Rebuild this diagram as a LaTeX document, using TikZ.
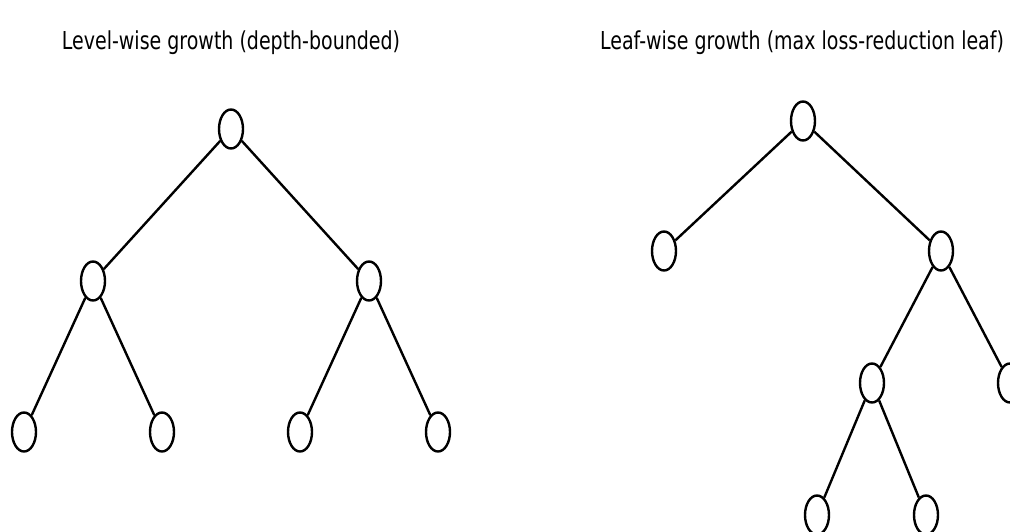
\documentclass[tikz,border=0pt]{standalone}
\usepackage{fontspec}
\setmainfont{DejaVu Sans}
\usetikzlibrary{shapes.geometric}
\tikzset{tnode/.style={ellipse,draw,line width=2.4pt,minimum width=24pt,minimum height=39pt,inner sep=0pt},
  tedge/.style={line width=2.4pt},ttl/.style={font=\fontsize{19}{22}\selectfont,anchor=base}}
\newcommand{\tall}[1]{\scalebox{1}[1.3]{#1}}

\begin{document}
\begin{tikzpicture}[x=1pt,y=-1pt]
\useasboundingbox (0,0) rectangle (1010,531);
% level-wise tree
\node[ttl] (tl) at (231,49) {\tall{Level-wise growth (depth-bounded)}};
\node[tnode] (a) at (231,129) {};
\node[tnode] (al) at (93,281) {}; \node[tnode] (ar) at (369,281) {};
\node[tnode] (all) at (24,432) {}; \node[tnode] (alr) at (162,432) {};
\node[tnode] (arl) at (300,432) {}; \node[tnode] (arr) at (438,432) {};
\draw[tedge] (a) -- (al); \draw[tedge] (a) -- (ar);
\draw[tedge] (al) -- (all); \draw[tedge] (al) -- (alr); \draw[tedge] (ar) -- (arl); \draw[tedge] (ar) -- (arr);
% leaf-wise tree
\node[ttl] (tr) at (802,49) {\tall{Leaf-wise growth (max loss-reduction leaf)}};
\node[tnode] (b) at (803,121) {};
\node[tnode] (bl) at (664,251) {}; \node[tnode] (br) at (941,251) {};
\node[tnode] (brl) at (872,383) {}; \node[tnode] (brr) at (1010,383) {};
\node[tnode] (brll) at (817,515) {}; \node[tnode] (brlr) at (926,515) {};
\draw[tedge] (b) -- (bl); \draw[tedge] (b) -- (br);
\draw[tedge] (br) -- (brl); \draw[tedge] (br) -- (brr);
\draw[tedge] (brl) -- (brll); \draw[tedge] (brl) -- (brlr);
\end{tikzpicture}
\end{document}
